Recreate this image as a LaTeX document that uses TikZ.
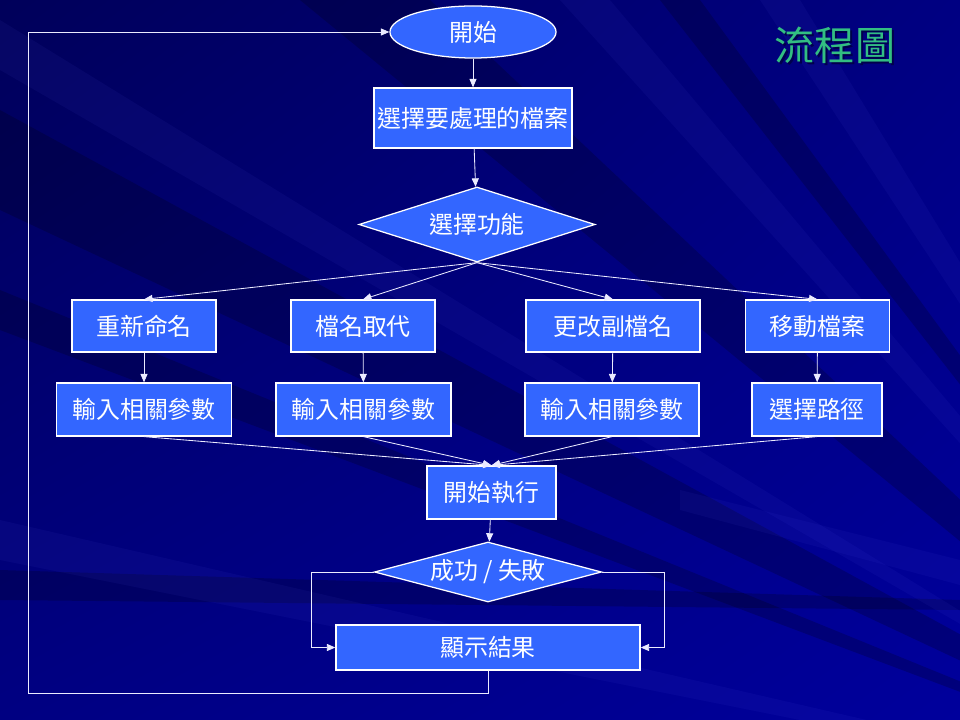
\documentclass[tikz,border=0pt]{standalone}
\usepackage{fontspec}
\setmainfont{Noto Sans CJK TC}
\usepackage{tikz}
\tikzset{every picture/.style={x=0.025cm, y=-0.025cm}}
\usetikzlibrary{shapes.geometric, arrows.meta, shadings}

\definecolor{bgdark}{RGB}{0,0,90}
\definecolor{bgmid}{RGB}{0,0,130}
\definecolor{bglight}{RGB}{0,0,156}
\definecolor{boxblue}{RGB}{51,102,255}
\definecolor{titlegreen}{RGB}{50,190,130}

\tikzset{
  box/.style={draw=white, line width=0.9pt, fill=boxblue, text=white,
    font=\fontsize{17}{20}\selectfont, inner sep=0pt},
  choice/.style={box, diamond},
  flow/.style={->, white!92!blue, line width=0.6pt},
  ray/.style={fill=black, opacity=0.2},
  glow/.style={fill=blue!60!white, opacity=0.06},
}

\begin{document}
\begin{tikzpicture}[>={Triangle[length=6pt, width=5pt]}]
    % background
    \useasboundingbox (0,0) rectangle (960,720);
    \shade[upper left=bgdark, upper right=bgmid, lower left=bgmid, lower right=bglight]
      (0,0) rectangle (960,720);
    \begin{scope}
      \clip (0,0) rectangle (960,720);
      \coordinate (focus) at (1300,820);
      \fill[ray] (focus) -- (300,0) -- (430,0) -- cycle;
      \fill[ray] (focus) -- (0,110) -- (0,210) -- cycle;
      \fill[ray] (focus) -- (0,290) -- (0,330) -- cycle;
      \fill[ray] (focus) -- (660,0) -- (700,0) -- cycle;
      \fill[ray] (0,570) -- (960,600) -- (960,610) -- (0,600) -- cycle;
      \fill[glow] (focus) -- (560,0) -- (610,0) -- cycle;
      \fill[glow] (focus) -- (760,0) -- (800,0) -- cycle;
      \fill[glow] (focus) -- (0,20) -- (0,70) -- cycle;
      \fill[glow] (focus) -- (0,520) -- (0,560) -- cycle;
      \fill[glow] (680,490) -- (960,560) -- (960,585) -- (680,510) -- cycle;
    \end{scope}

    % title
    \node[text=black!70!blue, font=\fontsize{28.5}{32}\selectfont] at (837,47.5) {流程圖};
    \node[text=titlegreen, font=\fontsize{28.5}{32}\selectfont] (title) at (835,45.5) {流程圖};

    % nodes
    \node[box, ellipse, minimum width=4.15cm, minimum height=1.3cm] (start) at (473,32) {開始};
    \node[box, minimum width=4.95cm, minimum height=1.5cm] (pick) at (473,118) {選擇要處理的檔案};
    \node[choice, shape aspect=3.15, minimum width=5.9cm, minimum height=1.875cm] (func) at (477,224.5) {選擇功能};

    \node[box, minimum width=3.6cm, minimum height=1.3cm] (ren) at (144,326) {重新命名};
    \node[box, minimum width=3.6cm, minimum height=1.3cm] (rep) at (363,326) {檔名取代};
    \node[box, minimum width=4.35cm, minimum height=1.3cm] (ext) at (613,326) {更改副檔名};
    \node[box, minimum width=3.6cm, minimum height=1.3cm] (mov) at (817.5,326) {移動檔案};

    \node[box, minimum width=4.36cm, minimum height=1.325cm] (parA) at (144,409.5) {輸入相關參數};
    \node[box, minimum width=4.375cm, minimum height=1.325cm] (parB) at (363.5,409.5) {輸入相關參數};
    \node[box, minimum width=4.35cm, minimum height=1.325cm] (parC) at (612,409.5) {輸入相關參數};
    \node[box, minimum width=3.25cm, minimum height=1.325cm] (path) at (817,409.5) {選擇路徑};

    \node[box, minimum width=3.225cm, minimum height=1.325cm] (run) at (491.5,492.5) {開始執行};
    \node[choice, shape aspect=3.78, minimum width=5.675cm, minimum height=1.5cm] (ok) at (488,572) {成功 / 失敗};
    \node[box, minimum width=7.6cm, minimum height=1.125cm] (show) at (488,647.5) {顯示結果};
    \coordinate (back) at (28,693);

    % connectors
    \draw[flow] (start) -- (pick);
    \draw[flow] (pick) -- (func);
    \foreach \a/\b in {ren/parA, rep/parB, ext/parC, mov/path} {
      \draw[flow] (func.south) -- (\a.north);
      \draw[flow] (\a) -- (\b);
      \draw[flow] (\b.south) -- (run.north);
    }
    \draw[flow] (run) -- (ok);
    \draw[flow] (ok.west) -- ++(-62,0) |- (show.west);
    \draw[flow] (ok.east) -- ++(62,0) |- (show.east);
    \draw[flow] (show.south) |- (back) |- (start.west);
\end{tikzpicture}
\end{document}
